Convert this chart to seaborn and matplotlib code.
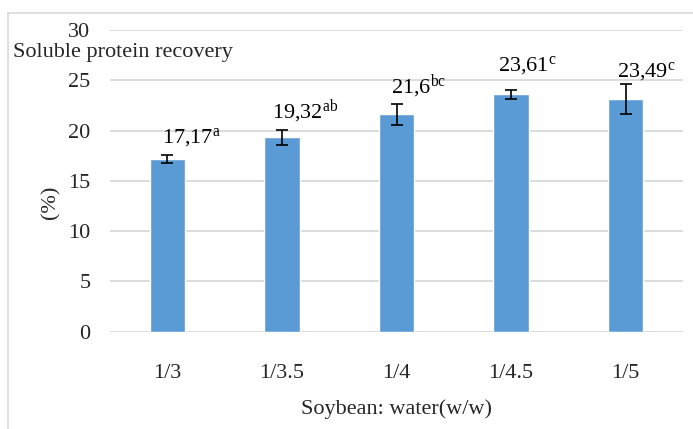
import matplotlib
matplotlib.use("Agg")
import matplotlib.pyplot as plt
import matplotlib.patches as patches
import seaborn as sns
import pandas as pd

# data
ratios = ['1/3', '1/3.5', '1/4', '1/4.5', '1/5']
recovery = [17.17, 19.32, 21.6, 23.61, 23.15]
errors = [0.42, 0.73, 1.0, 0.45, 1.53]
value_text = ['17,17', '19,32', '21,6', '23,61', '23,49']
letters = ['a', 'ab', 'bc', 'c', 'c']
label_x = [-0.05, 0.915, 1.954, 2.89, 3.92]
label_y = [18.76, 21.2, 23.7, 26.0, 25.4]

sns.set_style('white')
plt.rcParams['font.family'] = ['Liberation Serif', 'DejaVu Serif']
plt.rcParams['mathtext.fontset'] = 'custom'
plt.rcParams['mathtext.rm'] = 'Liberation Serif'
plt.rcParams['mathtext.it'] = 'Liberation Serif:italic'

df = pd.DataFrame({'ratio': ratios, 'recovery': recovery})

fig = plt.figure(figsize=(6.93, 4.29), dpi=100)
ax = fig.add_axes([110/693, 1 - 331.7/429, 573/693, (331.7 - 30)/429])

sns.barplot(data=df, x='ratio', y='recovery', color='#5B9BD5', width=0.31,
            saturation=1, errorbar=None, ax=ax, zorder=3)
ax.errorbar(range(len(ratios)), recovery, yerr=errors, fmt='none',
            ecolor='black', elinewidth=1.2, capsize=4.5, capthick=1.2, zorder=4)

for x, y, t, l in zip(label_x, label_y, value_text, letters):
    ax.text(x, y, t + r'$^{\mathrm{' + l + '}}$', ha='left', va='baseline',
            fontsize=16, color='black')

ax.set_ylim(0, 30)
ax.set_xlim(-0.5, 4.5)
ax.set_yticks(range(0, 31, 5))
ax.yaxis.grid(True, color='#D9D9D9', linewidth=1.3, zorder=0)
ax.set_axisbelow(True)
for s in ax.spines.values():
    s.set_visible(False)
ax.tick_params(axis='both', length=0, labelsize=16, colors='#262626')
ax.tick_params(axis='y', pad=14)
ax.tick_params(axis='x', pad=23)

ax.set_xlabel('Soybean: water(w/w)', fontsize=16, color='#262626', labelpad=12)
ax.set_ylabel('(%)', fontsize=16, color='#262626')
ax.yaxis.set_label_coords(-0.087, 0.43)

fig.text(13/693, 1 - 52/429, 'Soluble protein recovery', ha='left', va='center',
         fontsize=16, color='#262626')

fig.patches.append(patches.Rectangle((8/693, -0.1), 1.2, 1.1 - 13/429, fill=False,
                                     edgecolor='#D9D9D9', linewidth=1.2,
                                     transform=fig.transFigure, figure=fig))

fig.savefig('out.png', dpi=100)
